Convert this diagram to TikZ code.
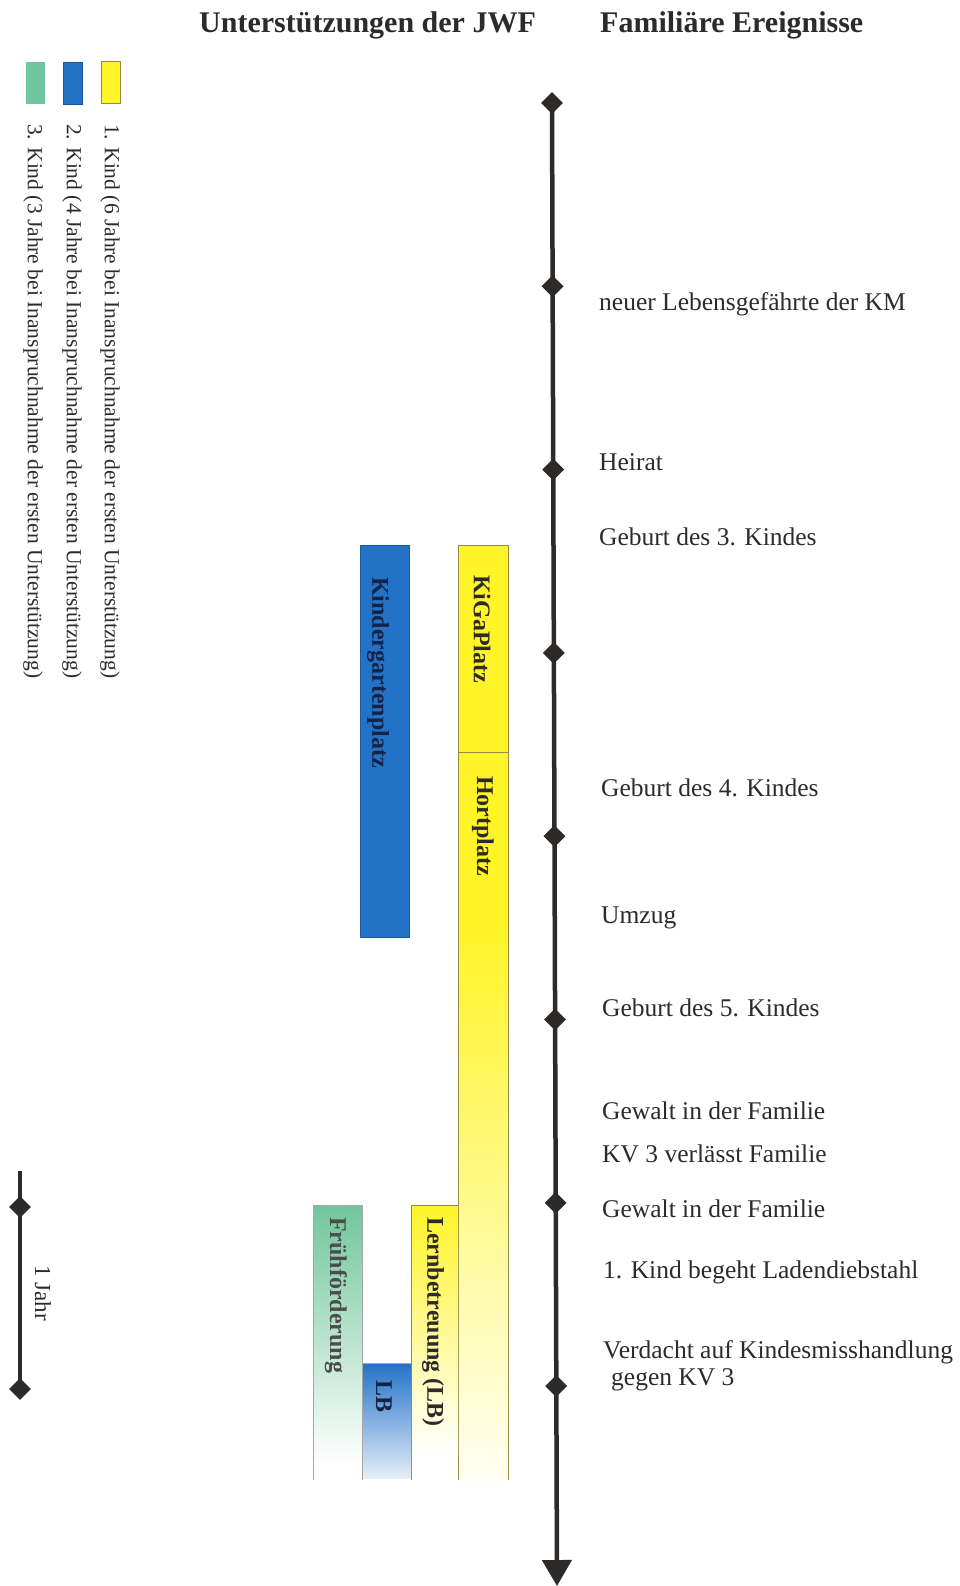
\documentclass[tikz,border=0pt]{standalone}
\usepackage{fontspec}
\setmainfont{Liberation Serif}
\usetikzlibrary{shapes.geometric, arrows.meta}

\definecolor{kgelb}{RGB}{255,244,40}
\definecolor{kblau}{RGB}{34,114,200}
\definecolor{kgruen}{RGB}{112,198,156}
\definecolor{oliv}{RGB}{150,140,70}
\definecolor{dunkel}{RGB}{45,42,42}
\definecolor{nacht}{RGB}{20,35,70}

\tikzset{
  raute/.style={diamond, fill=dunkel, inner sep=0pt, minimum size=22pt},
  achse/.style={line width=4.5pt, draw=dunkel},
  kopf/.style={anchor=base west, inner sep=0pt, text=dunkel, font=\fontsize{30}{32}\selectfont\bfseries},
  ereignis/.style={anchor=base west, inner sep=0pt, text=dunkel, font=\fontsize{25.5}{28}\selectfont},
  balken/.style={rotate=-90, anchor=west, inner sep=0pt, text=dunkel, font=\fontsize{24}{26}\selectfont\bfseries},
  legende/.style={rotate=-90, anchor=west, inner sep=0pt, text=dunkel, font=\fontsize{21.5}{24}\selectfont},
  kasten/.style={minimum width=19pt, minimum height=42pt, inner sep=0pt, line width=1pt}
}

\begin{document}
\begin{tikzpicture}[x=1pt, y=-1pt]
\useasboundingbox (0,0) rectangle (960,1586);

\node[kopf] (kopf1) at (199,33) {Unterstützungen der JWF};
\node[kopf] (kopf2) at (600,33) {Familiäre Ereignisse};

% Legende
\node[kasten, draw=oliv, fill=kgelb] (leg1) at (110.5,83) {};
\node[kasten, draw=kblau!75!black, fill=kblau] (leg2) at (73,84) {};
\node[kasten, fill=kgruen] (leg3) at (35.5,83.5) {};
\node[legende] (text1) at (110,124) {1. Kind (6 Jahre bei Inanspruchnahme der ersten Unterstützung)};
\node[legende] (text2) at (72,124) {2. Kind (4 Jahre bei Inanspruchnahme der ersten Unterstützung)};
\node[legende] (text3) at (33,124) {3. Kind (3 Jahre bei Inanspruchnahme der ersten Unterstützung)};

% Massstab
\node[raute] (jahr1) at (20,1207) {};
\node[raute] (jahr2) at (20,1389) {};
\coordinate (jahr0) at (20,1171);
\draw[achse] (jahr0) -- (jahr2.center);
\node[legende, font=\fontsize{23}{25}\selectfont] (jahr) at (43,1265) {1 Jahr};

% Kind 1
\fill[kgelb] (458,545) rectangle (508,930);
\shade[top color=kgelb, bottom color=kgelb!6] (458,930) rectangle (508,1480);
\draw[oliv, line width=1pt] (458,1480) -- (458,545) -- (508,545) -- (508,1480);
\draw[oliv, line width=1pt] (458,752) -- (508,752);
\shade[top color=kgelb, bottom color=white] (411,1205) rectangle (458,1455);
\draw[oliv, line width=1pt] (411,1480) -- (411,1205) -- (458,1205);

% Kind 2
\fill[kblau, draw=kblau!80!black, line width=0.8pt] (360,545) rectangle (409,937);
\shade[top color=kblau, bottom color=kblau!12] (362,1363) rectangle (411,1478);
\draw[gray!70, line width=1pt] (362,1363) -- (411,1363);

% Kind 3
\shade[top color=kgruen, bottom color=white] (313,1205) rectangle (362,1465);
\draw[gray!70, line width=1pt] (313,1480) -- (313,1205) -- (362,1205) -- (362,1480);

\node[balken] (kiga) at (482,575) {KiGaPlatz};
\node[balken] (hort) at (483,776) {Hortplatz};
\node[balken] (lern) at (433,1217) {Lernbetreuung (LB)};
\node[balken, text=nacht] (kgp) at (378,577) {Kindergartenplatz};
\node[balken, text=nacht] (lb) at (384,1380) {LB};
\node[balken, text=black!70] (ff) at (336,1217) {Frühförderung};

% Zeitachse
\foreach \k in {0,...,7}
  \node[raute] (d\k) at ({552+0.6*\k},{103+183.3*\k}) {};
\coordinate (ende) at (557,1586);
\draw[achse, -{Triangle[width=29pt,length=26pt]}] (d0.center) -- (ende);

\node[ereignis] (e1) at (599,311) {neuer Lebensgefährte der KM};
\node[ereignis] (e2) at (599,470) {Heirat};
\node[ereignis] (e3) at (599,545) {Geburt des 3. Kindes};
\node[ereignis] (e4) at (601,796) {Geburt des 4. Kindes};
\node[ereignis] (e5) at (601,923) {Umzug};
\node[ereignis] (e6) at (602,1016) {Geburt des 5. Kindes};
\node[ereignis] (e7) at (602,1119) {Gewalt in der Familie};
\node[ereignis] (e8) at (602,1162) {KV 3 verlässt Familie};
\node[ereignis] (e9) at (602,1217) {Gewalt in der Familie};
\node[ereignis] (e10) at (603,1278) {1. Kind begeht Ladendiebstahl};
\node[ereignis] (e11) at (603,1358) {Verdacht auf Kindesmisshandlung};
\node[ereignis] (e12) at (611,1385) {gegen KV 3};
\end{tikzpicture}
\end{document}
